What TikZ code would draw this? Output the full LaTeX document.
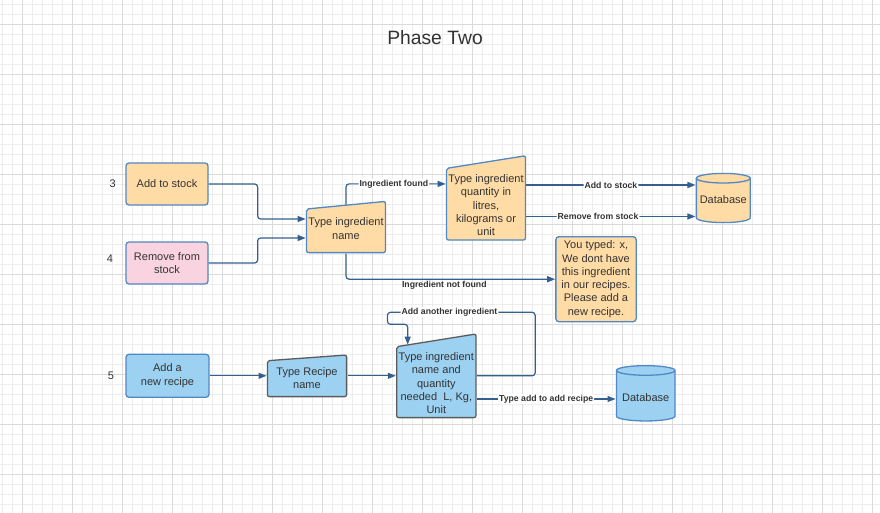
\documentclass[tikz,border=0pt]{standalone}
\usepackage{fontspec}
\setmainfont{Liberation Sans}
\usetikzlibrary{arrows.meta, positioning, calc}

\definecolor{gridminor}{HTML}{EDEDED}
\definecolor{gridmajor}{HTML}{DADADA}
\definecolor{orangefill}{HTML}{FFDBA5}
\definecolor{pinkfill}{HTML}{F9D3DF}
\definecolor{bluefill}{HTML}{9CD1F2}
\definecolor{edgeblue}{HTML}{5288C4}
\definecolor{edgegray}{HTML}{5C5C5C}
\definecolor{linkblue}{HTML}{34608F}
\definecolor{textgray}{HTML}{333333}

\begin{document}
\begin{tikzpicture}[x=1pt, y=-1pt,
    txt/.style = {text=textgray, font=\fontsize{11}{13.3}\selectfont},
    box/.style = {txt, draw=edgeblue, line width=1.3pt, rounded corners=3pt,
                  fill=#1, minimum width=82pt, minimum height=42pt,
                  inner sep=1pt, align=center},
    manual/.style 2 args = {txt, inner sep=1pt, align=center,
        path picture={\filldraw[#2, line width=1.3pt, rounded corners=2pt]
            ([shift={(0.7pt,0.7pt)}]path picture bounding box.south west)
            -- ([shift={(0.7pt,-#1pt)}]path picture bounding box.north west)
            -- ([shift={(-0.7pt,-0.7pt)}]path picture bounding box.north east)
            -- ([shift={(-0.7pt,0.7pt)}]path picture bounding box.south east) -- cycle;}},
    dbase/.style = {txt, inner sep=1pt,
        path picture={
            \filldraw[fill=#1, draw=edgeblue, line width=1.3pt]
                let \p1=(path picture bounding box.south west),
                    \p2=(path picture bounding box.north east),
                    \n1={(\x2-\x1)/2-0.7pt} in
                (\x1+0.7pt,\y2-5.5pt) -- (\x1+0.7pt,\y1+5.5pt)
                arc[start angle=180, end angle=360, x radius=\n1, y radius=4.8pt]
                -- (\x2-0.7pt,\y2-5.5pt)
                arc[start angle=0, end angle=180, x radius=\n1, y radius=4.8pt] -- cycle;
            \draw[edgeblue, line width=1.3pt]
                let \p1=(path picture bounding box.south west),
                    \p2=(path picture bounding box.north east),
                    \n1={(\x2-\x1)/2-0.7pt} in
                (\x1+0.7pt,\y2-5.5pt)
                arc[start angle=180, end angle=360, x radius=\n1, y radius=4.8pt];}},
    conn/.style = {draw=linkblue, line width=1.2pt, rounded corners=3pt,
                   -{Triangle[length=8pt, width=6pt]}},
    lbl/.style = {text=textgray, font=\bfseries\fontsize{8.7}{10}\selectfont,
                  fill=white, inner sep=1pt}]

    \useasboundingbox (0,0) rectangle (880,513);
    \fill[white] (0,0) rectangle (880,513);

    % grid
    \foreach \gx in {2.5,12.5,...,872.5}
        \draw[gridminor, line width=0.9pt] (\gx,0) -- (\gx,513);
    \foreach \gy in {4.5,14.5,...,504.5}
        \draw[gridminor, line width=0.9pt] (0,\gy) -- (880,\gy);
    \foreach \gx in {22.5,72.5,...,872.5}
        \draw[gridmajor, line width=0.9pt] (\gx,0) -- (\gx,513);
    \foreach \gy in {24.5,74.5,...,474.5}
        \draw[gridmajor, line width=0.9pt] (0,\gy) -- (880,\gy);

    \node[text=textgray, font=\fontsize{19.3}{22}\selectfont] (title) at (435,38) {Phase Two};

    % stock
    \node[box=orangefill] (add) at (167,184) {Add to stock};
    \node[box=pinkfill] (remove) [below=35.7pt of add] {Remove from\\stock};
    \node[txt] (n3) at (112.7,183.5) {3};
    \node[txt] (n4) at (110,259) {4};

    \node[manual={8.3}{fill=orangefill, draw=edgeblue}, text height=24.5pt,
          minimum width=80.3pt, minimum height=52.6pt] (tin) at (346,227) {Type ingredient\\name};
    \node[manual={13.3}{fill=orangefill, draw=edgeblue}, text height=76pt,
          minimum width=80.3pt, minimum height=85.7pt] (tqty) at (486,197.9)
          {Type ingredient\\quantity in\\litres,\\kilograms or\\unit};
    \node[dbase=orangefill, text height=12pt, minimum width=55.3pt, minimum height=50.6pt]
          (db1) at (723.3,198) {Database};
    \node[box=orangefill, minimum width=80.3pt, minimum height=85pt] (msg) at (596,279.2)
          {You typed: x,\\We dont have\\this ingredient\\in our recipes.\\Please add a\\new recipe.};

    \coordinate (db1a) at ([yshift=13pt]db1.west);
    \coordinate (db1b) at ([yshift=-18.5pt]db1.west);

    \draw[conn] (add.east) -- ++(49,0) |- ([yshift=8pt]tin.west);
    \draw[conn] (remove.east) -- ++(49,0) |- ([yshift=-11pt]tin.west);
    \draw[conn] ([yshift=-4pt]tin.north) |- ([yshift=14pt]tqty.west)
        node[lbl, pos=0.74] {Ingredient found};
    \draw[conn] (tin.south) |- (msg.west)
        node[lbl, fill=none, below, pos=0.735] {Ingredient not found};
    \draw[conn] (tqty.east |- db1a) -- (db1a) node[lbl, pos=0.5] {Add to stock};
    \draw[conn] (tqty.east |- db1b) -- (db1b) node[lbl, pos=0.424] {Remove from stock};

    % recipe
    \node[box=bluefill, minimum width=83pt, minimum height=43pt] (recipe) at (167.5,375.8)
          {Add a\\new recipe};
    \node[txt] (n5) at (111,375.5) {5};
    \node[manual={6.4}{fill=bluefill, draw=edgegray}, text height=25.5pt,
          minimum width=80.6pt, minimum height=43pt] (trn) at (307,375.8) {Type Recipe\\name};
    \node[manual={13.4}{fill=bluefill, draw=edgegray}, text height=76pt,
          minimum width=80.7pt, minimum height=85pt] (tiq) at (436.3,375.8)
          {Type ingredient\\name and\\quantity\\needed\ \ L, Kg,\\Unit};
    \node[dbase=bluefill, text height=17pt, minimum width=60pt, minimum height=56.7pt]
          (db2) at (645.7,393.3) {Database};

    \coordinate (db2a) at ([yshift=-5.7pt]db2.west);

    \draw[conn] (recipe.east) -- (trn.west);
    \draw[conn] (trn.east) -- (tiq.west);
    \draw[conn] (tiq.east) -- ++(58.3,0) |- ++(-147.7,-63.5)
        node[lbl, pos=0.79] {Add another ingredient}
        -- ++(0,12) -| ([xshift=-28.6pt, yshift=-11.5pt]tiq.north);
    \draw[conn] (tiq.east |- db2a) -- (db2a) node[lbl, pos=0.5] {Type add to add recipe};
\end{tikzpicture}
\end{document}
